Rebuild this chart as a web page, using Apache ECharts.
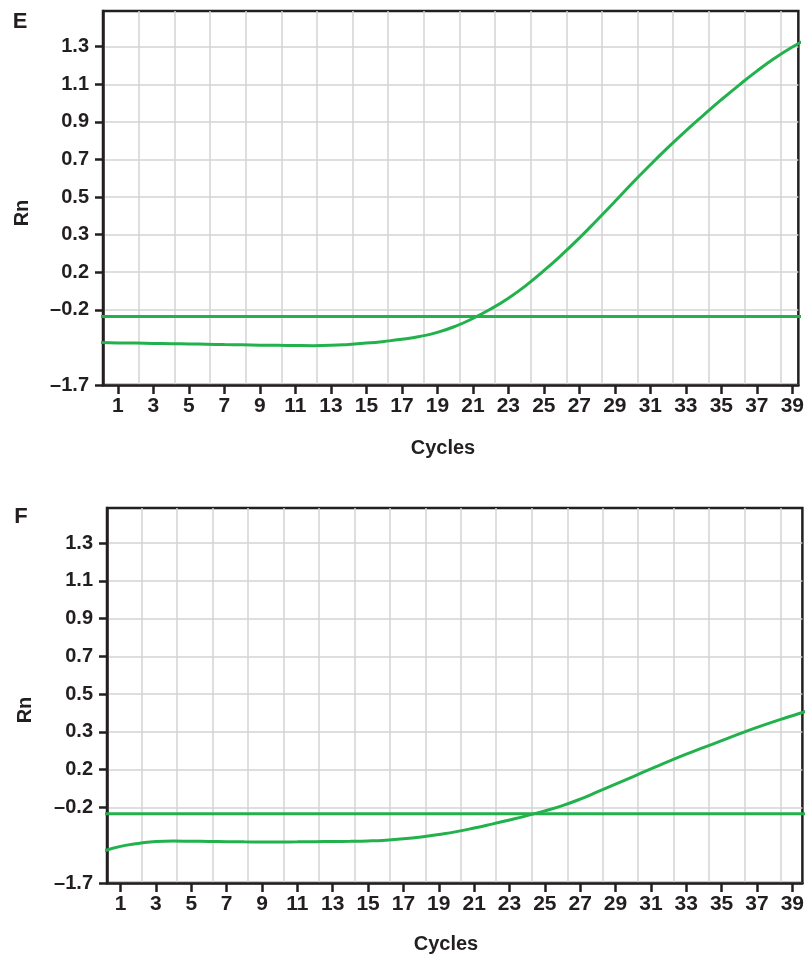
<!DOCTYPE html>
<html>
<head>
<meta charset="utf-8">
<script src="https://cdn.jsdelivr.net/npm/echarts@6/dist/echarts.min.js"></script>
<style>
html, body { margin: 0; padding: 0; background: #fff; }
#main { width: 807px; height: 955px; }
</style>
</head>
<body>
<div id="main"></div>
<script>
// amplification curves, values are positions on the (uneven) Rn axis
var cycles = [0, 1, 2, 3, 4, 5, 6, 7, 8, 9, 10, 11, 12, 13, 14, 15, 16, 17, 18, 19, 20,
              21, 22, 23, 24, 25, 26, 27, 28, 29, 30, 31, 32, 33, 34, 35, 36, 37, 38, 39, 40];
var rnE = [1.13, 1.12, 1.115, 1.105, 1.10, 1.09, 1.085, 1.075, 1.07, 1.06, 1.055,
           1.05, 1.047, 1.055, 1.08, 1.115, 1.16, 1.215, 1.29, 1.40, 1.56,
           1.77, 2.02, 2.31, 2.65, 3.04, 3.46, 3.91, 4.39, 4.88, 5.38,
           5.86, 6.32, 6.76, 7.18, 7.59, 7.98, 8.35, 8.69, 8.99, 9.25];
var rnF = [0.84, 0.97, 1.045, 1.10, 1.11, 1.105, 1.10, 1.095, 1.09, 1.088, 1.088,
           1.09, 1.095, 1.10, 1.105, 1.115, 1.135, 1.17, 1.22, 1.285, 1.36,
           1.455, 1.56, 1.67, 1.785, 1.91, 2.05, 2.22, 2.42, 2.62, 2.82,
           3.02, 3.22, 3.41, 3.59, 3.77, 3.95, 4.12, 4.28, 4.43, 4.58];
var thresholdE = 1.82;
var thresholdF = 1.835;

var xTicks = [1, 3, 5, 7, 9, 11, 13, 15, 17, 19, 21, 23, 25, 27, 29, 31, 33, 35, 37, 39];
var xGridLines = [2.18, 4.19, 6.2, 8.2, 10.21, 12.22, 14.22, 16.23, 18.24, 20.24,
                  22.25, 24.26, 26.27, 28.28, 30.28, 32.29, 34.3, 36.3, 38.32];
var yPos = [0, 2, 3, 4, 5, 6, 7, 8, 9];
var yLabels = ['\u20131.7', '\u20130.2', '0.2', '0.3', '0.5', '0.7', '0.9', '1.1', '1.3'];

var green = '#22b14c';
var ink = '#231f20';
var gridGray = '#d3d3d3';
var font = '"Liberation Sans", Arial, sans-serif';

var chart = echarts.init(document.getElementById('main'));

function pairs(xs, ys) {
    return xs.map(function (x, i) { return [x, ys[i]]; });
}

function flat(t) {
    return [[cycles[0], t], [cycles[cycles.length - 1], t]];
}

function xAxes(gi, min, max) {
    return [
        {
            gridIndex: gi, type: 'value', min: min, max: max, position: 'bottom',
            axisLine: { show: true, lineStyle: { color: ink, width: 2.5 } },
            axisTick: { show: true, customValues: xTicks, length: 9, lineStyle: { color: ink, width: 2.5 } },
            axisLabel: { customValues: xTicks, margin: 11, color: ink, fontSize: 21, fontWeight: 'bold', fontFamily: font },
            splitLine: { show: false }
        },
        {
            // only carries the vertical grid lines
            gridIndex: gi, type: 'value', min: min, max: max, position: 'top',
            axisLine: { show: false },
            axisTick: { show: false, customValues: xGridLines },
            axisLabel: { show: false },
            splitLine: { show: true, lineStyle: { color: gridGray, width: 1.5 } }
        }
    ];
}

function yAxis(gi, max) {
    return {
        gridIndex: gi, type: 'value', min: 0, max: max, interval: 1,
        axisLine: { show: true, lineStyle: { color: ink, width: 2.5 } },
        axisTick: { show: true, customValues: yPos, length: 8, lineStyle: { color: ink, width: 2.5 } },
        axisLabel: {
            customValues: yPos, margin: 14, color: ink, fontSize: 20, fontWeight: 'bold', fontFamily: font,
            formatter: function (v) { return yLabels[yPos.indexOf(v)]; }
        },
        splitLine: { show: true, lineStyle: { color: gridGray, width: 1.5 } }
    };
}

function line(xi, yi, data) {
    return {
        type: 'line', xAxisIndex: xi, yAxisIndex: yi, data: data,
        smooth: true, symbol: 'none', clip: true,
        lineStyle: { color: green, width: 3 }
    };
}

var txt = { fill: ink, fontFamily: font, fontWeight: 'bold', align: 'center', verticalAlign: 'middle' };
function label(x, y, s, size, rot) {
    return {
        type: 'text', x: x, y: y, rotation: rot || 0,
        style: Object.assign({ text: s, fontSize: size }, txt)
    };
}

option = {
    animation: false,
    grid: [
        { left: 103, top: 11, width: 698, height: 374, show: true, borderColor: ink, borderWidth: 2.5 },
        { left: 107, top: 508, width: 701, height: 375, show: true, borderColor: ink, borderWidth: 2.5 }
    ],
    xAxis: xAxes(0, 0.158, 39.34).concat(xAxes(1, 0.231, 39.57)),
    yAxis: [yAxis(0, 9.95), yAxis(1, 9.93)],
    series: [
        line(0, 0, pairs(cycles, rnE)),
        line(0, 0, flat(thresholdE)),
        line(2, 1, pairs(cycles, rnF)),
        line(2, 1, flat(thresholdF))
    ],
    graphic: [
        label(20, 22, 'E', 22),
        label(21, 517, 'F', 22),
        label(22, 213, 'Rn', 20, Math.PI / 2),
        label(25, 710, 'Rn', 20, Math.PI / 2),
        label(443, 448, 'Cycles', 20),
        label(446, 944, 'Cycles', 20)
    ]
};

chart.setOption(option);
</script>
</body>
</html>
